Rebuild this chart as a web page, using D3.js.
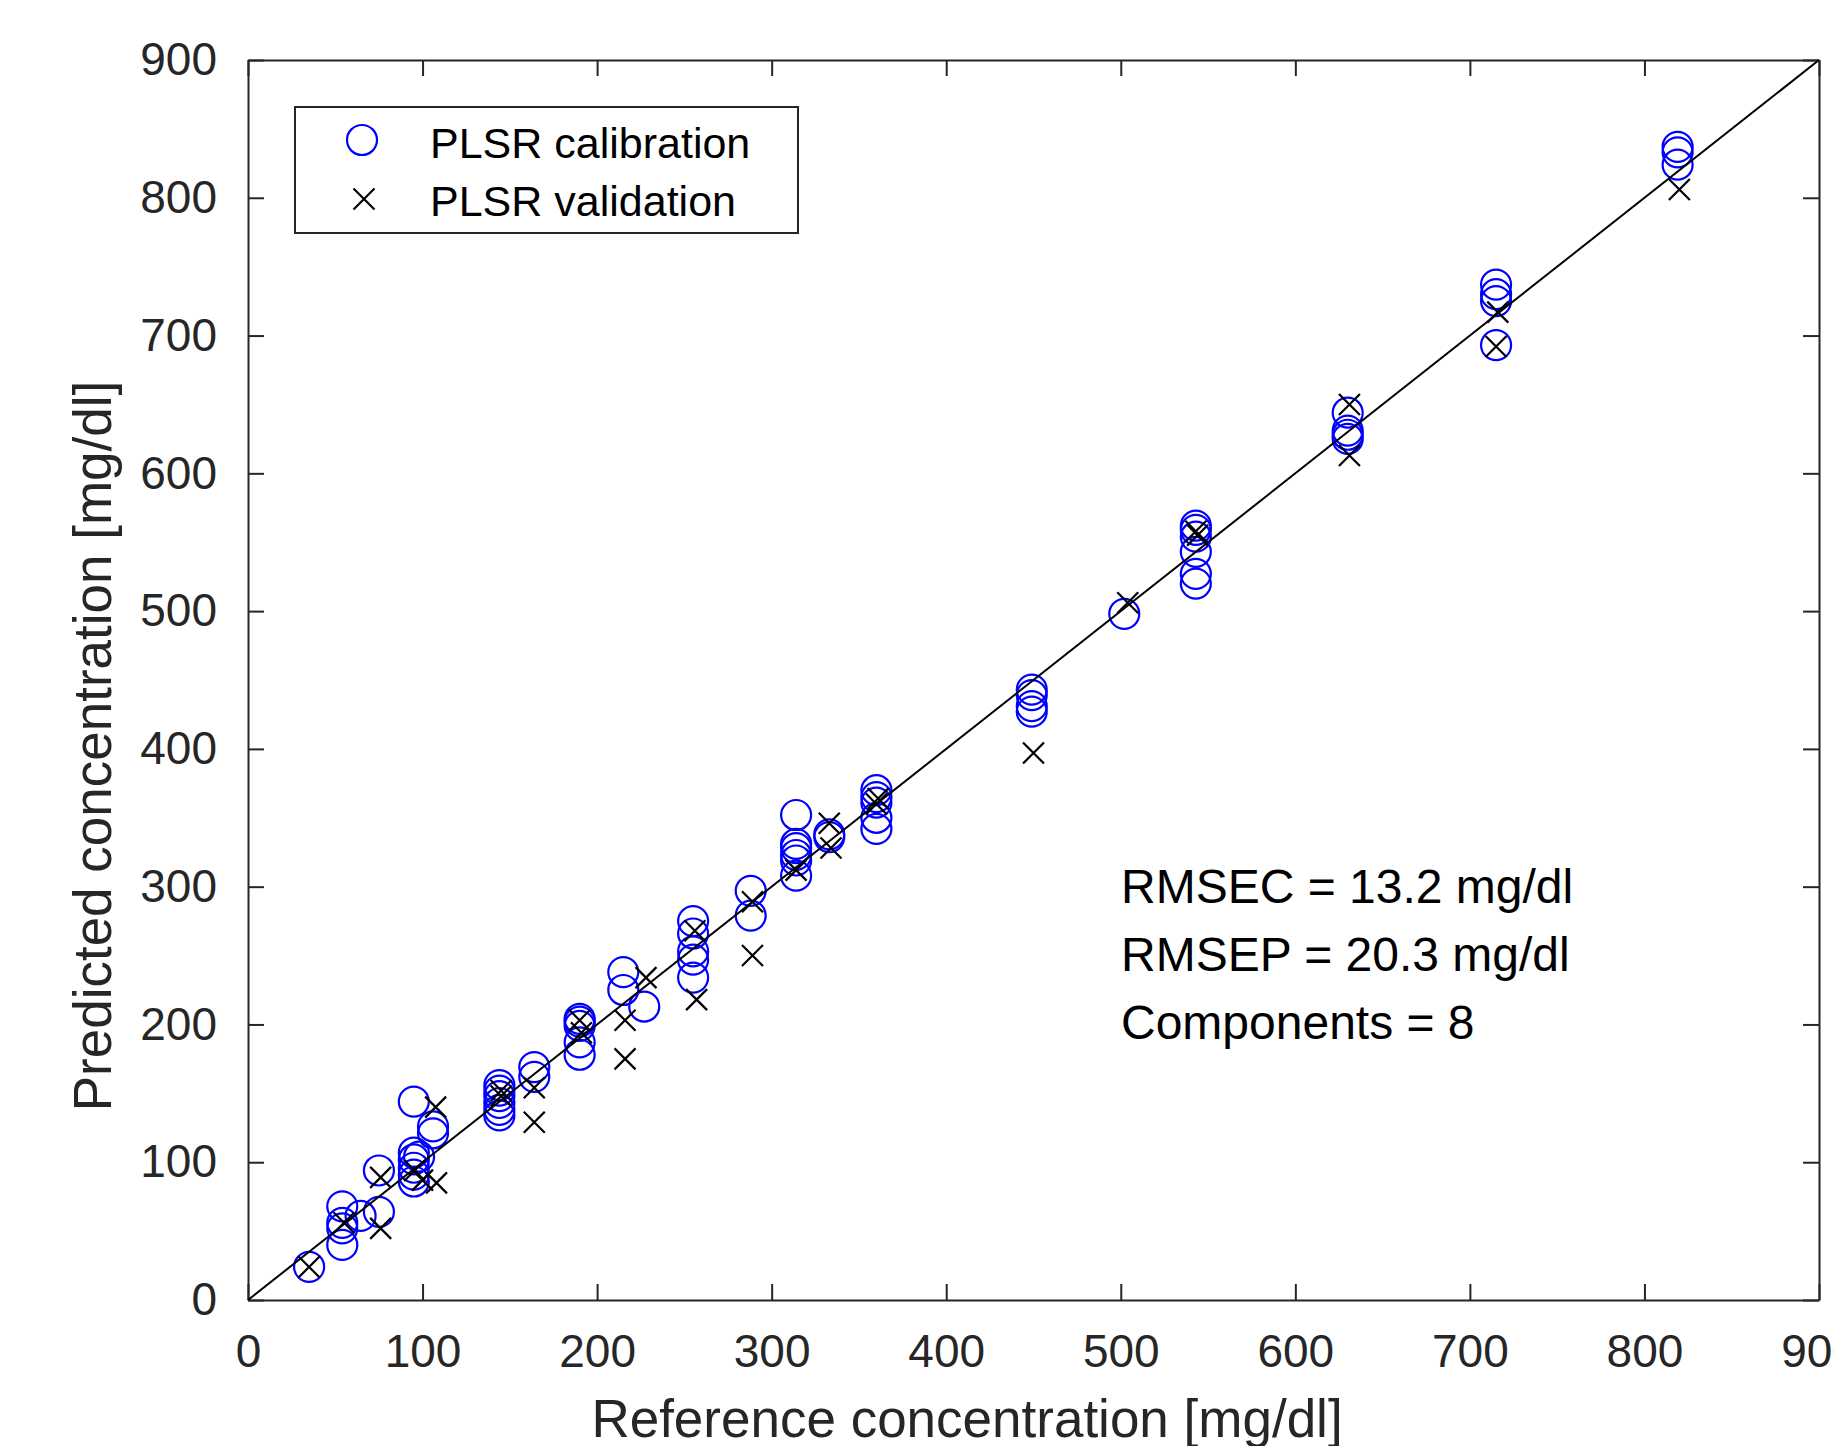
<!DOCTYPE html>
<html>
<head>
<meta charset="utf-8">
<script src="https://cdn.jsdelivr.net/npm/d3@7"></script>
<style>
  html, body { margin: 0; padding: 0; background: #fff; }
  svg { display: block; font-family: "Liberation Sans", Arial, Helvetica, sans-serif; }
</style>
</head>
<body>
<div id="chart"></div>
<script>
// calibration samples (circles): reference vs predicted, mg/dl
const calRef = [35, 54, 54, 54, 54, 64.5, 75, 75, 95, 95, 95, 95, 95, 95, 98, 106, 106,
  144, 144, 144, 144, 144, 144, 164, 164, 190, 190, 190, 190, 190, 215, 215, 227,
  255, 255, 255, 255, 255, 288, 288, 314, 314, 314, 314, 314, 314, 333, 333,
  360, 360, 360, 360, 360, 449, 449, 449, 449, 502, 543, 543, 543, 543, 543, 543,
  630, 630, 630, 630, 715, 715, 715, 715, 819, 819, 819];
const calPred = [24, 68, 56, 52, 40, 61, 94, 64, 144, 107, 102, 96, 91, 86, 104, 126, 121,
  156, 152, 148, 143, 138, 134, 169, 162, 204, 202, 199, 187, 178, 238, 225, 213,
  275, 266, 253, 247, 234, 297, 279, 352, 331, 328, 323, 319, 308, 338, 336,
  370, 365, 361, 350, 342, 443, 439, 431, 427, 498, 562, 559, 554, 543, 527, 520,
  644, 631, 628, 625, 737, 730, 725, 693, 837, 833, 824];

// validation samples (crosses)
const valRef = [35, 55, 76, 76, 95.5, 100, 108, 107.5, 145, 145, 164, 164, 190, 191,
  216, 216, 228, 256, 257, 289, 289, 314, 333, 334, 360, 361, 450, 504, 543, 544,
  631, 631, 716, 715, 820];
const valPred = [24, 56, 89, 52, 94, 87, 85, 140, 152, 148, 154, 129, 203, 194,
  203, 175, 234, 268, 218, 289, 250, 312, 346, 328, 360, 364, 397, 506, 558, 555,
  650, 613, 717, 692, 806];

const ticks = [0, 100, 200, 300, 400, 500, 600, 700, 800, 900];
const seriesNames = ["PLSR calibration", "PLSR validation"];
const statsLines = ["RMSEC = 13.2 mg/dl", "RMSEP = 20.3 mg/dl", "Components = 8"];

const W = 1834, H = 1446;
const margin = { top: 60, right: 15, bottom: 146, left: 248 };
const axisColor = "#262626";

const svg = d3.select("#chart").append("svg")
  .attr("width", W)
  .attr("height", H);

const x = d3.scaleLinear().domain([0, 900]).range([margin.left, W - margin.right]);
const y = d3.scaleLinear().domain([0, 900]).range([H - margin.bottom, margin.top]);

// axes, ticks point inward like the matlab box
function styleAxis(g) {
  g.select(".domain").attr("stroke", axisColor).attr("stroke-width", 2);
  g.selectAll(".tick line").attr("stroke", axisColor).attr("stroke-width", 2);
  g.selectAll(".tick text").attr("fill", axisColor).style("font-size", "46px");
}

svg.append("g")
  .attr("transform", `translate(0,${y(0)})`)
  .call(d3.axisBottom(x).tickValues(ticks).tickSizeInner(-16).tickSizeOuter(0).tickPadding(34))
  .call(styleAxis);

svg.append("g")
  .attr("transform", `translate(${x(0)},0)`)
  .call(d3.axisLeft(y).tickValues(ticks).tickSizeInner(-16).tickSizeOuter(0).tickPadding(31))
  .call(styleAxis);

svg.append("g")
  .attr("transform", `translate(0,${y(900)})`)
  .call(d3.axisTop(x).tickValues(ticks).tickSizeInner(-16).tickSizeOuter(0).tickFormat(""))
  .call(styleAxis);

svg.append("g")
  .attr("transform", `translate(${x(900)},0)`)
  .call(d3.axisRight(y).tickValues(ticks).tickSizeInner(-16).tickSizeOuter(0).tickFormat(""))
  .call(styleAxis);

// axis labels
svg.append("text")
  .attr("x", 967)
  .attr("y", 1437)
  .attr("text-anchor", "middle")
  .attr("fill", axisColor)
  .style("font-size", "53px")
  .text("Reference concentration [mg/dl]");

svg.append("text")
  .attr("transform", "translate(111,746) rotate(-90)")
  .attr("text-anchor", "middle")
  .attr("fill", axisColor)
  .style("font-size", "53px")
  .text("Predicted concentration [mg/dl]");

const R = 15, X = 10.5;
const crossPath = (cx, cy) => `M${cx - X},${cy - X}L${cx + X},${cy + X}M${cx - X},${cy + X}L${cx + X},${cy - X}`;

// calibration circles
svg.append("g")
  .selectAll("circle")
  .data(d3.zip(calRef, calPred))
  .join("circle")
  .attr("cx", d => x(d[0]))
  .attr("cy", d => y(d[1]))
  .attr("r", R)
  .attr("fill", "none")
  .attr("stroke", "#0000ff")
  .attr("stroke-width", 2.2);

// validation crosses
svg.append("g")
  .selectAll("path")
  .data(d3.zip(valRef, valPred))
  .join("path")
  .attr("d", d => crossPath(x(d[0]), y(d[1])))
  .attr("fill", "none")
  .attr("stroke", "#000")
  .attr("stroke-width", 2.2);

// 1:1 line
svg.append("path")
  .attr("d", d3.line()([[x(0), y(0)], [x(900), y(900)]]))
  .attr("stroke", "#000")
  .attr("stroke-width", 2);

// legend
const legend = svg.append("g");
legend.append("rect")
  .attr("x", 295).attr("y", 107)
  .attr("width", 503).attr("height", 126)
  .attr("fill", "#fff")
  .attr("stroke", axisColor)
  .attr("stroke-width", 2);
legend.append("circle")
  .attr("cx", 362).attr("cy", 140).attr("r", R)
  .attr("fill", "none").attr("stroke", "#0000ff").attr("stroke-width", 2.2);
legend.append("path")
  .attr("d", crossPath(364, 199))
  .attr("stroke", "#000").attr("stroke-width", 2.2);
legend.selectAll("text")
  .data(seriesNames)
  .join("text")
  .attr("x", 430)
  .attr("y", (d, i) => 158 + i * 58)
  .attr("fill", "#000")
  .style("font-size", "43px")
  .text(d => d);

// stats text
svg.append("g")
  .selectAll("text")
  .data(statsLines)
  .join("text")
  .attr("x", 1121)
  .attr("y", (d, i) => 903 + i * 68)
  .attr("fill", "#000")
  .style("font-size", "48px")
  .text(d => d);
</script>
</body>
</html>
